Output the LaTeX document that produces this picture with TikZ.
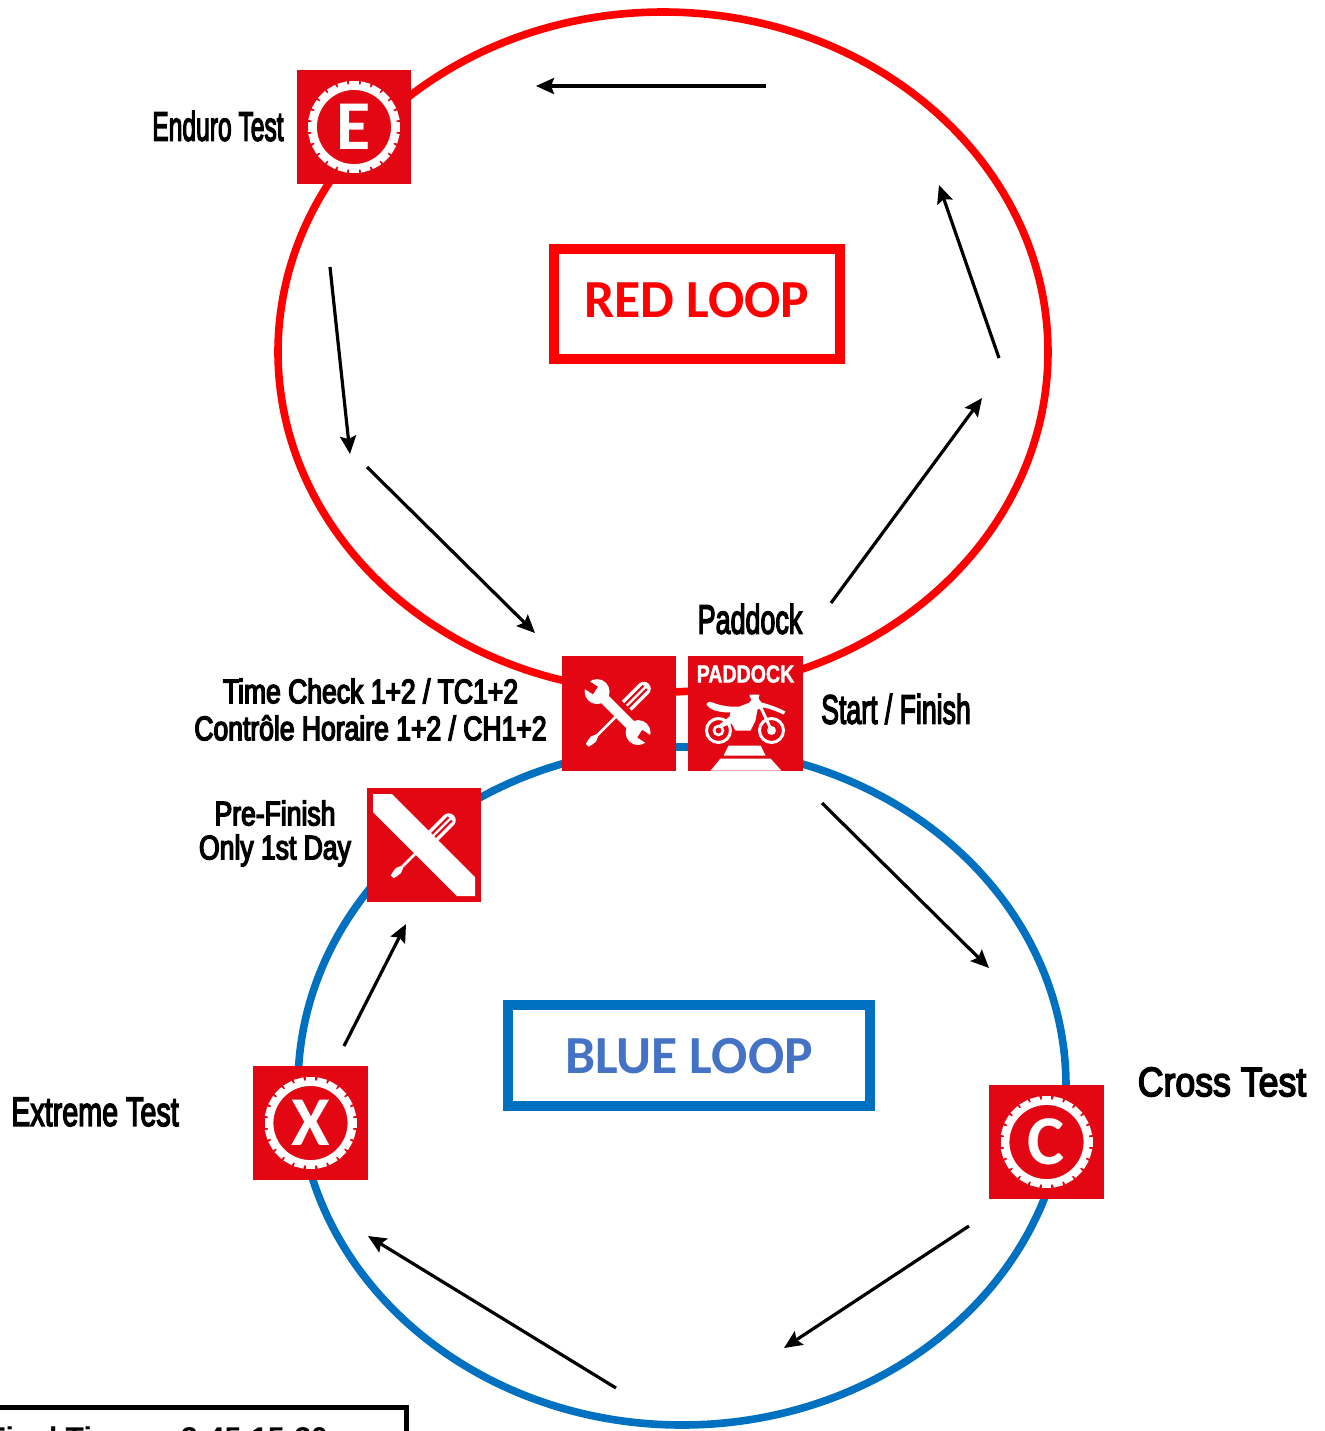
\documentclass[tikz,border=0pt]{standalone}
\usepackage{fontspec}
\usepackage{graphicx}
\setmainfont{Liberation Sans}
\newfontfamily\labfont[FakeBold=4]{Liberation Sans}
\newfontfamily\labnarrow[FakeBold=4,FakeStretch=0.78]{Liberation Sans}
\newfontfamily\padfont[FakeBold=1.5,FakeStretch=0.79]{Liberation Sans Bold}
\newfontfamily\loopfont{Carlito}
\usetikzlibrary{arrows.meta}
\definecolor{iconred}{HTML}{E30613}
\definecolor{loopred}{HTML}{FF0000}
\definecolor{loopblue}{HTML}{0070C0}
\definecolor{bluetext}{HTML}{4472C4}
\tikzset{
  x=0.5pt,y=-0.5pt,
  loopline/.style={line width=3.8pt},
  flow/.style={line width=1.6pt,-{Stealth[length=9pt,width=8pt,inset=1.5pt]}},
  iconbox/.style={fill=iconred,draw=none,minimum size=57.2pt,inner sep=0pt,outer sep=0pt},
  lab/.style={text=black,inner sep=0pt,align=center},
  loopbox/.style={draw,line width=5pt,fill=white,inner sep=0pt},
}
\newcommand{\bigtext}[2]{\scalebox{#1}[1]{\labfont\fontsize{20.5}{20.5}\selectfont #2}}
\newcommand{\tirering}[3]{% centre x, y, letter
  \begin{scope}[shift={(#1,#2)}]
    \foreach \a in {0,15,...,345}{
      \fill[white,rotate=\a] (-4.8,-46) rectangle (4.8,-38);
    }
    \draw[white,line width=2.9pt] (0,0) circle (40);
    \node[text=white,font=\loopfont\bfseries\fontsize{35}{35}\selectfont,inner sep=0pt] at (0,0) {#3};
  \end{scope}}
% screwdriver along the local x axis (rotated 45 degrees)
\newcommand{\sdriver}{%
  \fill[white] (11,-7) -- (35,-7) arc (-90:90:7) -- (11,7) -- cycle;
  \draw[iconred,line width=1pt] (10,-2.4) -- (37,-2.4) (10,2.4) -- (37,2.4);
  \fill[white] (-4,-1.4) -- (-31,-1.4) -- (-36,-3.6) -- (-41,-3) -- (-45,-2) -- (-45,2) -- (-41,3) -- (-36,3.6) -- (-31,1.4) -- (-4,1.4) -- cycle;
}
\begin{document}
\begin{tikzpicture}
\useasboundingbox (0,0) rectangle (1324,1431);
\begin{scope}
\clip (0,0) rectangle (1324,1431);
\draw[loopline,draw=loopred] (663,352) ellipse [x radius=385,y radius=340];
\draw[loopline,draw=loopblue] (682,1086) ellipse [x radius=384,y radius=339];
% bottom box
\draw[line width=2.5pt] (-10,1407) -- (406,1407) -- (406,1445);
\node[anchor=base west,font=\bfseries\fontsize{15}{15}\selectfont,inner sep=0pt] (timebox) at (-13,1448) {Final Time:\hspace{18pt}3:45-15:30};
\end{scope}

% loop labels
\node[loopbox,draw=loopred,minimum width=143pt,minimum height=55pt] (red) at (697,304) {};
\node[text=loopred,font=\loopfont\bfseries\fontsize{26.8}{26.8}\selectfont,inner sep=0pt] (redt) at (697,300) {RED LOOP};
\node[loopbox,draw=loopblue,minimum width=181pt,minimum height=50.5pt] (blue) at (689,1055.5) {};
\node[text=bluetext,font=\loopfont\bfseries\fontsize{26.8}{26.8}\selectfont,inner sep=0pt] (bluet) at (689,1056) {BLUE LOOP};

% icon boxes
\node[iconbox] (E) at (354,127) {};
\node[iconbox] (T) at (619,713.5) {};
\node[iconbox] (P) at (745.5,713.5) {};
\node[iconbox] (F) at (424,845) {};
\node[iconbox] (X) at (310.5,1123) {};
\node[iconbox] (C) at (1046.5,1142) {};

\tirering{354}{127}{E}
\tirering{310.5}{1123}{X}
\tirering{1046.5}{1142}{C}

% tools icon
\begin{scope}[shift={(619,713.5)},rotate=45]
  \sdriver
  \fill[white] (-5.2,-33) rectangle (5.2,28);
  \fill[white] (0,-31) circle (12.5) (0,27) circle (12.5);
  \fill[iconred,rotate around={12:(0,-31)}] (-4.5,-33) rectangle (4.5,-46);
  \fill[iconred,rotate around={12:(0,27)}] (-4.5,29) rectangle (4.5,42);
\end{scope}

% pre-finish icon
\begin{scope}[shift={(424,845)},rotate=45]
  \sdriver
\end{scope}
\begin{scope}[shift={(424,845)}]
  \fill[white] (-51,-51) -- (-32,-51) -- (51,32) -- (51,51) -- (33,51) -- (-51,-33) -- cycle;
\end{scope}

% paddock icon
\begin{scope}[shift={(745.5,713.5)}]
  \node[text=white,font=\padfont\fontsize{12.4}{12.4}\selectfont,inner sep=0pt] (ptxt) at (0,-39.5) {PADDOCK};
  \draw[white,line width=1.5pt] (-27,17) circle (12);
  \draw[white,line width=1.5pt] (26,17) circle (12);
  \draw[white,line width=1.3pt] (-27,17) circle (4.5);
  \fill[white] (26,17) circle (4.5);
  % seat, tank and front fender
  \fill[white] (-39,-9) .. controls (-38,-12) and (-36,-12) .. (-33,-11) .. controls (-26,-8) and (-14,-6) .. (-6,-7)
     -- (4,-11) -- (6,-14) -- (4,-17) -- (4,-19) -- (14,-19) -- (13,-15) -- (16,-11)
     .. controls (24,-9) and (32,-6) .. (40,-2) -- (38,1) .. controls (32,-2) and (24,-5) .. (18,-6)
     -- (12,-4) -- (10,7) -- (5,17) -- (-10,17) -- (-14,10) -- (-24,14) -- (-26,11) -- (-16,3) -- (-15,-1)
     .. controls (-22,-1) and (-35,-2) .. (-39,-9) -- cycle;
  \draw[white,line width=1.5pt] (14,-9) -- (26,17);
  % crossing stripes
  \fill[white] (-17,32) -- (15,32) -- (20,42) -- (-22,42) -- cycle;
  \fill[white] (-25,45) -- (25,45) -- (36,57.2) -- (-35,57.2) -- cycle;
\end{scope}

% texts
\node[lab] (tE) at (218,126) {\bigtext{0.6}{Enduro Test}};
\node[lab] (tP) at (750,619) {\bigtext{0.655}{Paddock}};
\node[lab] (tS) at (896,709) {\bigtext{0.65}{Start / Finish}};
\node[lab,font=\labnarrow\fontsize{17}{18.5}\selectfont] (tT) at (370.5,709.5) {Time Check 1+2 / TC1+2\\Contrôle Horaire 1+2 / CH1+2};
\node[lab,font=\labnarrow\fontsize{17}{17}\selectfont] (tF) at (275,833.5) {Pre-Finish\\Only 1st Day};
\node[lab] (tX) at (95,1112) {\bigtext{0.7}{Extreme Test}};
\node[lab] (tC) at (1222,1082) {\bigtext{0.87}{Cross Test}};

% flow arrows
\coordinate (a1) at (766,86);   \coordinate (a2) at (536,86);
\coordinate (b1) at (999,358);  \coordinate (b2) at (939,185);
\coordinate (c1) at (831,603);  \coordinate (c2) at (982,398);
\coordinate (d1) at (367,467);  \coordinate (d2) at (535,633);
\coordinate (e1) at (330,267);  \coordinate (e2) at (350,454);
\coordinate (f1) at (822,803);  \coordinate (f2) at (989,968);
\coordinate (g1) at (969,1226); \coordinate (g2) at (784,1348);
\coordinate (h1) at (616,1388); \coordinate (h2) at (368,1236);
\coordinate (i1) at (344,1046); \coordinate (i2) at (406,924);
\draw[flow] (a1) -- (a2);
\draw[flow] (b1) -- (b2);
\draw[flow] (c1) -- (c2);
\draw[flow] (d1) -- (d2);
\draw[flow] (e1) -- (e2);
\draw[flow] (f1) -- (f2);
\draw[flow] (g1) -- (g2);
\draw[flow] (h1) -- (h2);
\draw[flow] (i1) -- (i2);
\end{tikzpicture}
\end{document}
